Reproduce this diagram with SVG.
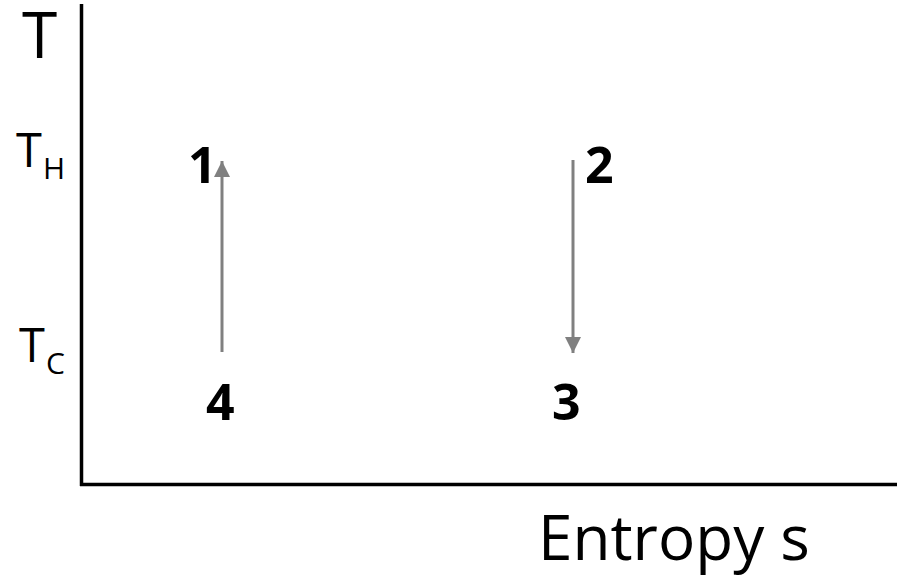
<svg xmlns="http://www.w3.org/2000/svg" width="903" height="577" viewBox="0 0 903 577">
<style>
.lbl{font-family:"Open Sans","DejaVu Sans",sans-serif;fill:#000}
.num{font-family:"Open Sans","DejaVu Sans",sans-serif;font-weight:bold;font-size:50px;fill:#000}
.axis{stroke:#000;stroke-width:3.5;fill:none}
.arr{stroke:#808080;stroke-width:3;fill:none}
</style>
<defs>
<marker id="ah" viewBox="0 0 16 16" refX="16" refY="8" markerWidth="16" markerHeight="16" markerUnits="userSpaceOnUse" orient="auto">
<path d="M0,0 L16,8 L0,16 z" fill="#808080"/>
</marker>
</defs>
<g id="axes">
<line class="axis" x1="81.5" y1="4" x2="81.5" y2="486"/>
<line class="axis" x1="80" y1="484.5" x2="897" y2="484.5"/>
</g>
<g id="labels">
<text class="lbl" x="22" y="58" font-size="64">T</text>
<text class="lbl" x="16" y="167" font-size="47">T<tspan font-size="30" dy="12" dx="1">H</tspan></text>
<text class="lbl" x="19" y="362" font-size="47">T<tspan font-size="30" dy="12" dx="1">C</tspan></text>
<text class="lbl" x="538" y="560" font-size="62">Entropy s</text>
</g>
<g id="node1"><text class="num" x="188" y="183">1</text></g>
<g id="node2"><text class="num" x="585" y="183">2</text></g>
<g id="node3"><text class="num" x="552" y="420">3</text></g>
<g id="node4"><text class="num" x="206" y="420">4</text></g>
<g id="connectors">
<line class="arr" x1="222" y1="352" x2="222" y2="161" marker-end="url(#ah)"/>
<line class="arr" x1="573" y1="160" x2="573" y2="353" marker-end="url(#ah)"/>
</g>
</svg>
